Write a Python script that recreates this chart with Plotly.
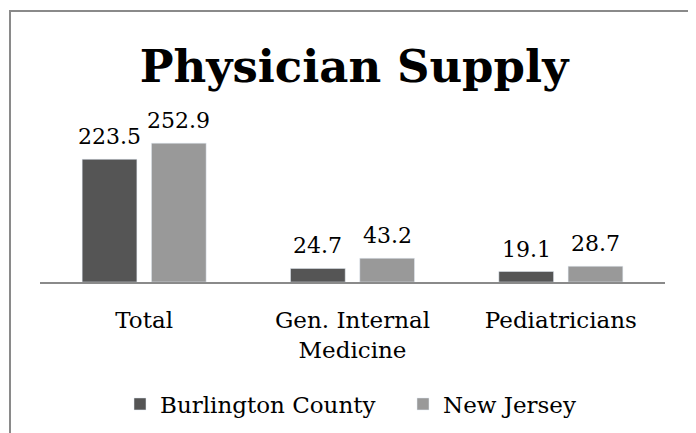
import plotly.graph_objects as go

categories = ["Total", "Gen. Internal<br>Medicine", "Pediatricians"]
burlington = [223.5, 24.7, 19.1]
new_jersey = [252.9, 43.2, 28.7]
series_names = ["Burlington County", "New Jersey"]

W, H = 696, 433
OFF = 8  # page offset of the rendered figure
L, R, T, B = 40 - OFF, 39, 100 - OFF, 159
plot_h = H - T - B
ymax = 331.5
FONT = "DejaVu Serif"
BARGAP, GROUPGAP = 0.335, 0.21

fig = go.Figure()
fig.add_trace(go.Bar(x=categories, y=burlington, name=series_names[0],
                     marker_color="#555555"))
fig.add_trace(go.Bar(x=categories, y=new_jersey, name=series_names[1],
                     marker_color="#999999"))

# value labels positioned through the category axis (bar centers at +/- half slot)
slot = (1 - BARGAP) / 2
for i, (b, n) in enumerate(zip(burlington, new_jersey)):
    for xo, v in ((-slot / 2, b), (slot / 2, n)):
        fig.add_annotation(x=i + xo, y=v, xref="x", yref="y", text=f"{v:.1f}",
                           showarrow=False, yanchor="bottom", yshift=8,
                           font=dict(family=FONT, size=22, color="#000000"))

def px_to_paper_x(px):
    return (px - OFF - L) / (W - L - R)

def px_to_paper_y(py):
    return (H - B - (py - OFF)) / plot_h

fig.add_shape(type="rect", xref="paper", yref="paper",
              x0=px_to_paper_x(10), x1=px_to_paper_x(694),
              y0=px_to_paper_y(460), y1=px_to_paper_y(11),
              line=dict(color="#8a8a8a", width=2), fillcolor="rgba(0,0,0,0)", layer="below")

fig.update_layout(
    width=W, height=H,
    margin=dict(l=L, r=R, t=T, b=B),
    paper_bgcolor="white", plot_bgcolor="white",
    barmode="group", bargap=BARGAP, bargroupgap=GROUPGAP,
    title=dict(text="<b>Physician Supply</b>", x=px_to_paper_x(354), xanchor="center", xref="paper",
               y=1 - (66 - OFF) / H, yanchor="middle",
               font=dict(family=FONT, size=45, color="#000000")),
    font=dict(family=FONT, size=23, color="#000000"),
    showlegend=True,
    legend=dict(orientation="h", x=px_to_paper_x(403), xanchor="center",
                y=px_to_paper_y(404), yanchor="middle",
                entrywidth=238, entrywidthmode="pixels",
                font=dict(family=FONT, size=23, color="#000000"),
                bgcolor="rgba(0,0,0,0)"),
    xaxis=dict(showline=True, linecolor="#8a8a8a", linewidth=2, ticks="",
               showgrid=False, ticklabelstandoff=16,
               tickfont=dict(family=FONT, size=23, color="#000000")),
    yaxis=dict(range=[0, ymax], visible=False, showgrid=False, zeroline=False),
)

fig.write_html("out.html")
